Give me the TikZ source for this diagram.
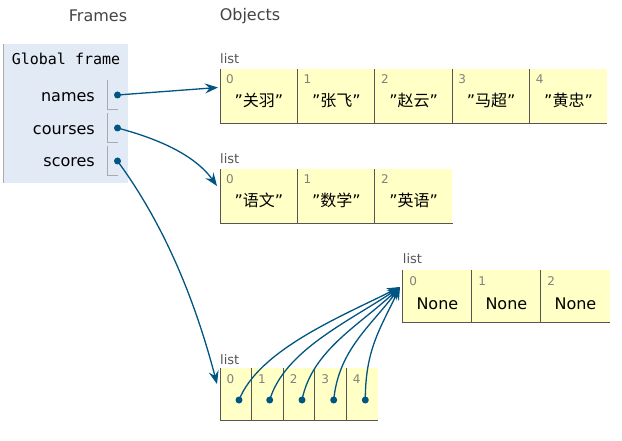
\documentclass[tikz,border=0pt]{standalone}
\usepackage{fontspec}
\setmainfont{DejaVu Sans}
\setmonofont{DejaVu Sans Mono}
\newfontfamily\cjk{Noto Sans CJK SC}
\usetikzlibrary{arrows.meta}
\definecolor{ptr}{HTML}{005583}
\definecolor{cellbg}{HTML}{FFFFC6}
\definecolor{framebg}{HTML}{E2EAF5}
\definecolor{cellline}{HTML}{555555}
\definecolor{idxcol}{HTML}{808080}
\definecolor{labcol}{HTML}{555555}
\definecolor{titlecol}{HTML}{444444}
\definecolor{brk}{HTML}{AAAAAA}
\tikzset{
  title/.style={font=\fontsize{16}{19}\selectfont, text=titlecol, inner sep=0pt},
  varname/.style={font=\fontsize{16}{19}\selectfont, anchor=base east, inner sep=0pt},
  listlab/.style={font=\fontsize{13}{15}\selectfont, text=labcol, anchor=base west, inner sep=0pt},
  idx/.style={font=\fontsize{12}{14}\selectfont, text=idxcol, anchor=base west, inner sep=0pt},
  val/.style={font=\fontsize{16}{19}\selectfont, anchor=base, inner sep=0pt},
  cellA/.style={rectangle, fill=cellbg, inner sep=0pt, anchor=north west, minimum width=77.4pt, minimum height=54pt},
  cellB/.style={rectangle, fill=cellbg, inner sep=0pt, anchor=north west, minimum width=69pt, minimum height=52pt},
  cellC/.style={rectangle, fill=cellbg, inner sep=0pt, anchor=north west, minimum width=31.54pt, minimum height=52.5pt},
  border/.style={draw=cellline, line width=1pt},
  ptrline/.style={draw=ptr, line width=1.3pt, -{Stealth[length=13pt,width=10pt,inset=4.5pt]}},
  dot/.style={circle, fill=ptr, inner sep=0pt, minimum size=7pt},
}
\begin{document}
\begin{tikzpicture}[x=1pt,y=-1pt]
\useasboundingbox (0,0) rectangle (622,441);
\fill[white] (0,0) rectangle (622,441);

% titles
\node[title] (tframes) at (98,16) {Frames};
\node[title] (tobjects) at (250,16) {Objects};

% global frame
\fill[framebg] (3,44) rectangle (128,183);
\draw[brk, line width=1pt] (3.5,44) -- (3.5,183);
\node[font=\ttfamily\fontsize{15}{18}\selectfont, anchor=base, inner sep=0pt] (gf) at (66,65) {Global frame};

\node[varname] (vnames) at (95,102) {names};
\node[varname] (vcourses) at (95,135) {courses};
\node[varname] (vscores) at (95,167) {scores};

\foreach \t in {80,113,146}{
  \draw[brk, line width=1pt] (107,\t) -- (107,\t+30) -- (118,\t+30);
}
\node[dot] (dnames) at (117.5,95) {};
\node[dot] (dcourses) at (117.5,128) {};
\node[dot] (dscores) at (117.5,161) {};

% list 1: names
\node[listlab] (l1lab) at (220,64) {list};
\foreach \i/\v in {0/关羽,1/张飞,2/赵云,3/马超,4/黄忠}{
  \node[cellA] (a\i) at (220+77.4*\i,69) {};
  \draw[border] (a\i.north west) -- (a\i.south west) -- (a\i.south east);
  \node[idx] at ([xshift=6pt,yshift=-15pt]a\i.north west) {\i};
  \node[val] at ([yshift=-38pt]a\i.north) {\char34{\cjk \v}\char34};
}
\coordinate (l1in) at (218,87.5);

% list 2: courses
\node[listlab] (l2lab) at (220,164) {list};
\foreach \i/\v in {0/语文,1/数学,2/英语}{
  \node[cellA] (b\i) at (220+77.4*\i,169) {};
  \draw[border] (b\i.north west) -- (b\i.south west) -- (b\i.south east);
  \node[idx] at ([xshift=6pt,yshift=-15pt]b\i.north west) {\i};
  \node[val] at ([yshift=-38pt]b\i.north) {\char34{\cjk \v}\char34};
}
\coordinate (l2in) at (217,186);

% list 3: None
\node[listlab] (l3lab) at (402.7,264) {list};
\foreach \i in {0,1,2}{
  \node[cellB] (c\i) at (402.7+69*\i,270) {};
  \draw[border] (c\i.north west) -- (c\i.south west) -- (c\i.south east);
  \node[idx] at ([xshift=6.5pt,yshift=-15pt]c\i.north west) {\i};
  \node[val] at ([yshift=-39pt]c\i.north) {None};
}
\coordinate (l3in) at (400,287);

% list 4: scores
\node[listlab] (l4lab) at (220,364) {list};
\foreach \i in {0,1,2,3,4}{
  \node[cellC] (e\i) at (220+31.54*\i,368) {};
  \draw[border] (e\i.north west) -- (e\i.south west) -- (e\i.south east);
  \node[idx] at ([xshift=6.5pt,yshift=-15pt]e\i.north west) {\i};
}
\coordinate (l4in) at (217,384);
\node[dot] (p0) at (239,400) {};
\node[dot] (p1) at (269.7,400) {};
\node[dot] (p2) at (302,400) {};
\node[dot] (p3) at (333.7,400) {};
\node[dot] (p4) at (365.3,400) {};

% pointers
\draw[ptrline] (dnames.center) -- (l1in);
\draw[ptrline] (dcourses.center) .. controls +(30,8) and +(-25,-35) .. (l2in);
\draw[ptrline] (dscores.center) .. controls +(47,64) and +(-22,-84) .. (l4in);

\draw[ptrline] (p0.center) .. controls +(20,-50) and +(-60,30) .. (l3in);
\draw[ptrline] (p1.center) .. controls +(15,-50) and +(-50,34) .. (l3in);
\draw[ptrline] (p2.center) .. controls +(10,-50) and +(-40,38) .. (l3in);
\draw[ptrline] (p3.center) .. controls +(5,-50) and +(-30,40) .. (l3in);
\draw[ptrline] (p4.center) .. controls +(0,-50) and +(-20,42) .. (l3in);
\end{tikzpicture}
\end{document}
